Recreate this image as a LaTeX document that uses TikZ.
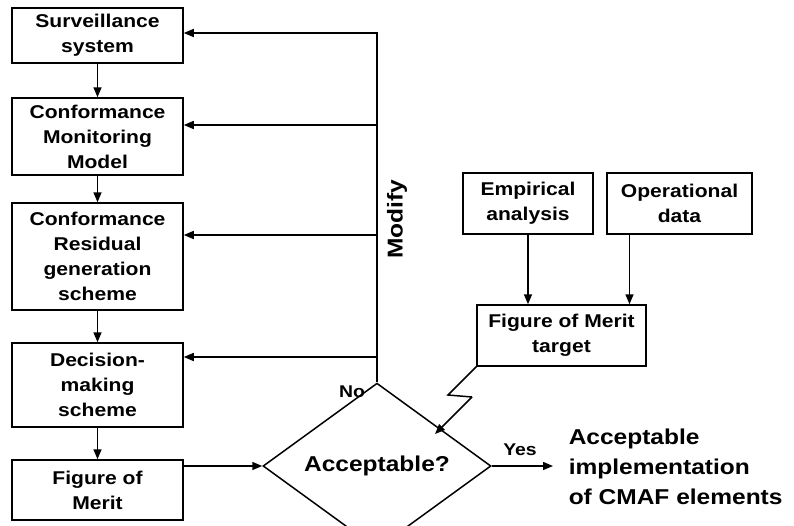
\documentclass[tikz,border=0pt]{standalone}
\usepackage{fontspec}
\setmainfont[FakeStretch=1.14]{Liberation Sans}
\usetikzlibrary{shapes.geometric,arrows.meta}

\begin{document}
\begin{tikzpicture}[
            x=1pt,y=-1pt,
            line width=1.5pt,
            every node/.append style={black,font=\bfseries},
            block/.style={draw,align=center,inner sep=0pt,
                font=\bfseries\fontsize{18.5}{25}\selectfont},
            arr/.style={-{Triangle[length=10pt,width=8pt]}},
            tag/.style={font=\bfseries\fontsize{17}{20}\selectfont}
        ]
            \useasboundingbox (0,0) rectangle (794,525);

            \node[block,minimum width=171pt,minimum height=55pt] (surv) at (97.5,35.5) {Surveillance\\system};
            \node[block,minimum width=171pt,minimum height=77pt] (cmm) at (97.5,136.5) {Conformance\\Monitoring\\Model};
            \node[block,minimum width=171pt,minimum height=107pt] (crgs) at (97.5,256.5) {Conformance\\Residual\\generation\\scheme};
            \node[block,minimum width=171pt,minimum height=84pt] (dms) at (97.5,385) {Decision-\\making\\scheme};
            \node[block,minimum width=171pt,minimum height=60pt] (fom) at (97.5,490) {Figure of\\Merit};

            \node[draw,diamond,inner sep=0pt,minimum width=228pt,minimum height=112pt,
                font=\bfseries\fontsize{21.5}{25}\selectfont] (acc) at (377,466) {Acceptable?};

            \node[block,minimum width=130pt,minimum height=61pt] (emp) at (528,203.5) {Empirical\\analysis};
            \node[block,minimum width=145pt,minimum height=61pt] (opd) at (679.5,203.5) {Operational\\data};
            \node[block,minimum width=169pt,minimum height=61pt] (fomt) at (561.5,335.5) {Figure of Merit\\target};

            \draw[arr] (surv) -- (cmm);
            \draw[arr] (cmm) -- (crgs);
            \draw[arr] (crgs) -- (dms);
            \draw[arr] (dms) -- (fom);
            \draw[arr] (fom.east |- acc.west) -- (acc.west);

            % feedback from the decision back up the chain
            \coordinate (mod1) at (377,33);
            \coordinate (mod2) at (377,125);
            \coordinate (mod3) at (377,235);
            \coordinate (mod4) at (377,357);
            \draw[arr] (acc.north) -- (mod1) -- (surv.east |- mod1);
            \draw[arr] (mod2) -- (cmm.east |- mod2);
            \draw[arr] (mod3) -- (crgs.east |- mod3);
            \draw[arr] (mod4) -- (dms.east |- mod4);
            \node[rotate=90,font=\bfseries\fontsize{21.5}{25}\selectfont] (modify) at (397,219) {Modify};
            \node[tag] (no) at (352,392) {No};

            \draw[arr] (emp.south) -- (emp.south |- fomt.north);
            \draw[arr] ([xshift=-50pt]opd.south) -- ([xshift=-50pt]opd.south |- fomt.north);

            \coordinate (z1) at (448,395);
            \coordinate (z2) at (472,397);
            \coordinate (hit) at (435,434);
            \draw (fomt.south west) -- (z1) -- (z2);
            \draw[arr] (z2) -- (hit);

            \coordinate (out) at (553,466);
            \draw[arr] (acc.east) -- (out);
            \node[tag] (yes) at (520,450) {Yes};
            \node[anchor=west,align=left,inner sep=0pt,
                font=\bfseries\fontsize{21.5}{30}\selectfont] (impl) at (568,467)
                {Acceptable\\implementation\\of CMAF elements};
        \end{tikzpicture}
\end{document}
